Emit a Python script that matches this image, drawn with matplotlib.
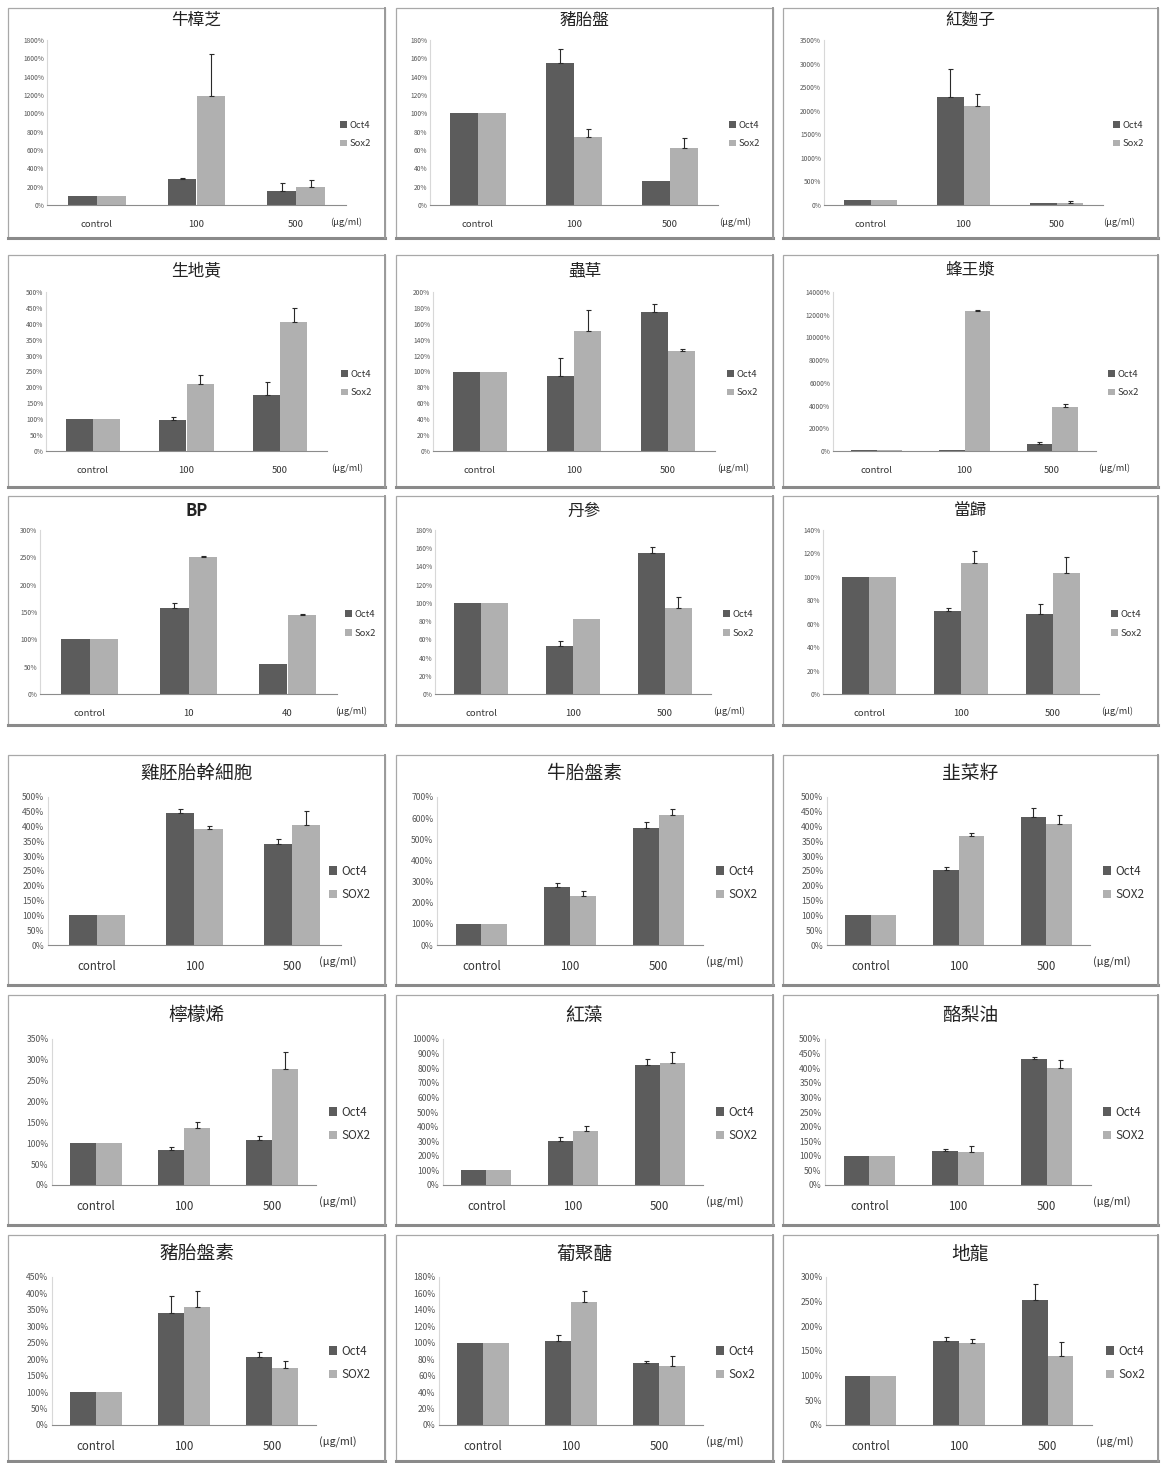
import numpy as np
import matplotlib
matplotlib.use("Agg")
import matplotlib.pyplot as plt
from matplotlib.patches import Rectangle
from matplotlib.lines import Line2D

plt.rcParams['font.family'] = ['Noto Sans CJK TC', 'DejaVu Sans']

# panel titles, row by row
TITLES = ['牛樟芝', '豬胎盤', '紅麴子',
          '生地黃', '蟲草', '蜂王漿',
          'BP', '丹參', '當歸',
          '雞胚胎幹細胞', '牛胎盤素', '韭菜籽',
          '檸檬烯', '紅藻', '酪梨油',
          '豬胎盤素', '葡聚醣', '地龍']

DOSES = ['control', '100', '500']
DOSES_BP = ['control', '10', '40']

# relative expression (%) for control / low / high dose
OCT4 = [[100, 280, 150], [100, 155, 26], [100, 2300, 40],
        [100, 99, 176], [100, 94, 175], [100, 100, 650],
        [100, 157, 55], [100, 53, 155], [100, 71, 68],
        [100, 447, 340], [100, 273, 553], [100, 253, 434],
        [100, 85, 109], [100, 301, 824], [100, 116, 430],
        [100, 341, 207], [100, 102, 75], [100, 170, 254]]
OCT4_ERR = [[0, 20, 85], [0, 15, 0], [0, 580, 0],
            [0, 7, 42], [0, 23, 10], [0, 0, 100],
            [0, 9, 0], [0, 5, 6], [0, 2, 9],
            [0, 13, 18], [0, 22, 28], [0, 12, 28],
            [0, 5, 8], [0, 28, 38], [0, 9, 10],
            [0, 52, 15], [0, 7, 3], [0, 8, 32]]
SOX2 = [[100, 1190, 195], [100, 74, 62], [100, 2090, 50],
        [100, 212, 405], [100, 151, 126], [100, 12300, 3900],
        [100, 251, 144], [100, 82, 94], [100, 112, 103],
        [100, 391, 404], [100, 230, 617], [100, 369, 410],
        [100, 137, 279], [100, 370, 836], [100, 112, 399],
        [100, 360, 174], [100, 150, 72], [100, 166, 140]]
SOX2_ERR = [[0, 460, 80], [0, 9, 11], [0, 270, 25],
            [0, 27, 46], [0, 26, 2], [0, 100, 230],
            [0, 2, 3], [0, 0, 13], [0, 10, 14],
            [0, 10, 50], [0, 24, 28], [0, 8, 29],
            [0, 15, 40], [0, 32, 77], [0, 23, 28],
            [0, 48, 21], [0, 13, 12], [0, 8, 28]]

# y axis top and step (%)
Y_MAX = [1800, 180, 3500, 500, 200, 14000, 300, 180, 140,
         500, 700, 500, 350, 1000, 500, 450, 180, 300]
Y_STEP = [200, 20, 500, 50, 20, 2000, 50, 20, 20,
          50, 100, 50, 50, 100, 50, 50, 20, 50]

SOX_LABEL = ['Sox2'] * 9 + ['SOX2'] * 7 + ['Sox2'] * 2

W, H = 1161, 1463
OCT_COLOR = '#5c5c5c'
SOX_COLOR = '#b0b0b0'

# panel boxes in pixels
COL_BOX = [(8, 385), (396, 773), (783, 1158)]
ROW_BOX = [(8, 238), (255, 487), (496, 725), (755, 985), (995, 1225), (1235, 1461)]
# plot area of each panel: left edge and width (px), top/bottom per row
AX_X = [47, 430, 824, 46, 433, 833, 40, 435, 823,
        48, 437, 827, 52, 443, 825, 52, 439, 826]
AX_W = [299, 288, 279, 281, 282, 263, 297, 276, 276,
        293, 266, 263, 264, 260, 266, 264, 264, 266]
LEG_X = [344, 733, 1117, 345, 731, 1112, 349, 727, 1115,
         333, 720, 1107, 333, 720, 1107, 333, 720, 1110]
ROW_AX = [(40, 205), (292, 451), (530, 694), (797, 945), (1039, 1185), (1277, 1425)]
TITLE_Y = [20, 271, 511, 773, 1015, 1254]

fig = plt.figure(figsize=(W / 100, H / 100), dpi=100)
fig.patch.set_facecolor('white')


def fx(x):
    return x / W


def fy(y):
    return 1 - y / H


for i in range(18):
    r, c = divmod(i, 3)
    big = r >= 3
    bx0, bx1 = COL_BOX[c]
    by0, by1 = ROW_BOX[r]

    # panel frame with a darker lower edge
    fig.patches.append(Rectangle((fx(bx0), fy(by1)), fx(bx1 - bx0), (by1 - by0) / H,
                                 transform=fig.transFigure, fill=False,
                                 edgecolor='#a8a8a8', lw=0.9))
    fig.lines.append(Line2D([fx(bx0), fx(bx1)], [fy(by1), fy(by1)],
                            transform=fig.transFigure, color='#8a8a8a', lw=2.2))
    fig.lines.append(Line2D([fx(bx1), fx(bx1)], [fy(by0), fy(by1)],
                            transform=fig.transFigure, color='#9a9a9a', lw=1.4))

    ay0, ay1 = ROW_AX[r]
    ax = fig.add_axes([fx(AX_X[i]), fy(ay1), AX_W[i] / W, (ay1 - ay0) / H])

    x = np.arange(3)
    bw = 0.29
    ax.bar(x - bw / 2, OCT4[i], bw, color=OCT_COLOR, label='Oct4')
    ax.bar(x + bw / 2, SOX2[i], bw, color=SOX_COLOR, label=SOX_LABEL[i])
    for xs, vals, errs in [(x - bw / 2, OCT4[i], OCT4_ERR[i]),
                           (x + bw / 2, SOX2[i], SOX2_ERR[i])]:
        for xx, v, e in zip(xs, vals, errs):
            if e > 0:
                ax.errorbar(xx, v, yerr=[[0], [e]], fmt='none', ecolor='#2a2a2a',
                            elinewidth=0.8, capsize=1.8, capthick=0.8)

    ax.set_xlim(-0.5, 2.5)
    ax.set_ylim(0, Y_MAX[i])
    ticks = np.arange(0, Y_MAX[i] + 1, Y_STEP[i])
    ax.set_yticks(ticks)
    ax.set_yticklabels([f'{t}%' for t in ticks], fontsize=6.2 if big else 4.8,
                       color='#555555')
    ax.set_xticks(x)
    ax.set_xticklabels(DOSES_BP if i == 6 else DOSES,
                       fontsize=8.3 if big else 6.8, color='#333333')
    ax.tick_params(axis='both', length=0)
    ax.tick_params(axis='x', pad=11)
    ax.tick_params(axis='y', pad=2.5 if big else 2)
    for s in ['top', 'right']:
        ax.spines[s].set_visible(False)
    ax.spines['left'].set_color('#d8d8d8')
    ax.spines['left'].set_linewidth(0.8)
    ax.spines['bottom'].set_color('#8c8c8c')
    ax.spines['bottom'].set_linewidth(0.8)

    leg_y = (ay0 + ay1) / 2 + 12
    ax.legend(loc='center left', bbox_to_anchor=(fx(LEG_X[i] - 4), fy(leg_y)),
              bbox_transform=fig.transFigure, frameon=False,
              fontsize=8.5 if big else 6.8, handlelength=0.7, handleheight=0.7,
              handletextpad=0.35, labelspacing=0.9 if big else 1.05,
              labelcolor='#333333', borderaxespad=0, borderpad=0)

    fig.text(fx(LEG_X[i] - 14), fy(ay1 + 17), '(μg/ml)', fontsize=7.8 if big else 6.6,
             color='#333333', ha='left', va='center')

    fig.text(fx((bx0 + bx1) / 2), fy(TITLE_Y[r]), TITLES[i],
             fontsize=13.5 if big else 12,
             fontweight='bold' if i == 6 else 'normal',
             color='#222222', ha='center', va='center')

fig.savefig('out.png', dpi=100, facecolor='white')
